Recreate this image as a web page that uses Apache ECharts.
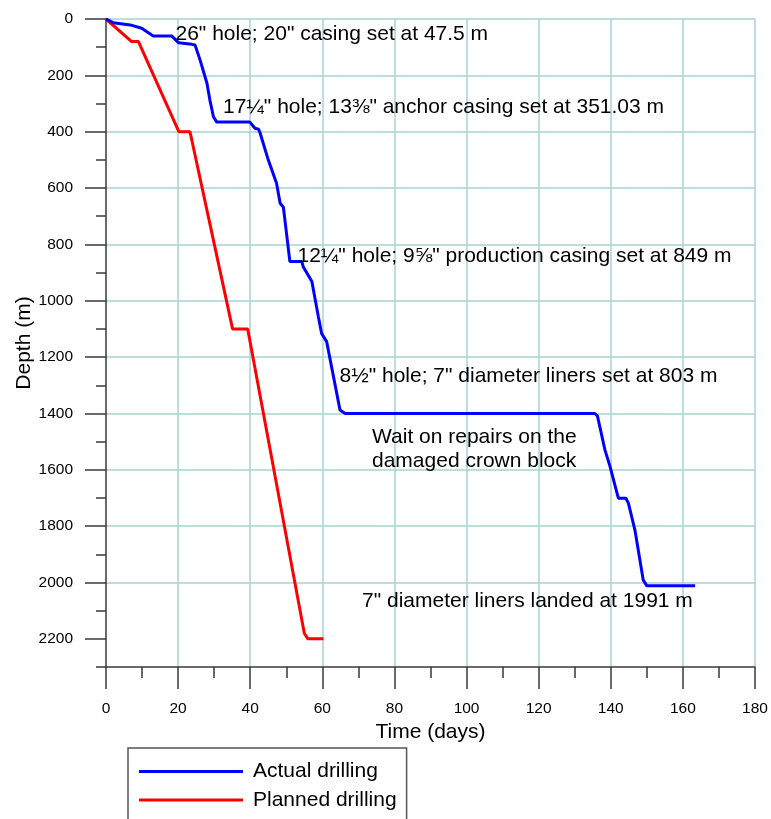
<!DOCTYPE html>
<html>
<head>
<meta charset="utf-8">
<script src="https://cdn.jsdelivr.net/npm/echarts@6/dist/echarts.min.js"></script>
<style>
  html, body { margin: 0; padding: 0; background: #ffffff; }
  #chart { width: 771px; height: 819px; }
</style>
</head>
<body>
<div id="chart"></div>
<script>
// Actual drilling progress: time (days) vs depth (m)
const actualDays  = [0, 2.0, 6.7, 9.9, 13.1, 18.2, 20.1, 23.8, 24.7, 26.1, 28.0, 28.8, 29.8, 30.7,
                     39.9, 41.3, 42.3, 42.7, 45.0, 47.3, 48.3, 49.2, 51.0, 54.3, 54.7, 57.1, 58.9,
                     59.8, 61.2, 64.9, 66.3, 135.6, 136.3, 138.4, 139.8, 142.1, 144.2, 144.9, 146.7,
                     149.0, 150.0, 163.4];
const actualDepth = [0, 13, 21, 33, 60, 60, 84, 90, 92, 146, 228, 287, 347, 366,
                     366, 388, 391, 403, 500, 583, 654, 668, 861, 861, 879, 932, 1057,
                     1116, 1145, 1388, 1400, 1400, 1409, 1530, 1589, 1701, 1701, 1719, 1814,
                     1991, 2012, 2012];

// Planned drilling programme
const plannedDays  = [0, 7.1, 9.0, 9.4, 20.2, 23.3, 35.1, 39.3, 55.0, 56.0, 60.3];
const plannedDepth = [0, 80, 80, 86, 400, 400, 1100, 1100, 2180, 2200, 2200];

// Axis ticks
const depthLabelTicks = [0, 200, 400, 600, 800, 1000, 1200, 1400, 1600, 1800, 2000, 2200];
const depthMinorTicks = [100, 300, 500, 700, 900, 1100, 1300, 1500, 1700, 1900, 2100, 2300];
const timeRange = [0, 180];
const depthRange = [0, 2300];

// Section notes
const notes = [
  { text: '26" hole; 20" casing set at 47.5 m', x: 175.5, y: 34.5 },
  { text: '17\u00BC" hole; 13\u215C" anchor casing set at 351.03 m', x: 223, y: 107.5 },
  { text: '12\u00BC" hole; 9\u215D" production casing set at 849 m', x: 297.5, y: 256.5 },
  { text: '8\u00BD" hole; 7" diameter liners set at 803 m', x: 339.5, y: 376 },
  { text: 'Wait on repairs on the', x: 372, y: 437.5 },
  { text: 'damaged crown block', x: 372, y: 461 },
  { text: '7" diameter liners landed at 1991 m', x: 362, y: 601 }
];

const FONT = '"Liberation Sans", Arial, Helvetica, sans-serif';
const axisColor = '#3a3a3a';
const gridColor = '#a9d3d3';

const zip = (xs, ys) => xs.map((x, i) => [x, ys[i]]);
const plain = v => String(v);

const chart = echarts.init(document.getElementById('chart'), null, { renderer: 'canvas' });

chart.setOption({
  animation: false,
  backgroundColor: '#ffffff',
  grid: { left: 106, top: 19, right: 16, bottom: 152, containLabel: false, outerBoundsMode: 'none' },
  legend: {
    data: ['Actual drilling', 'Planned drilling'],
    orient: 'vertical',
    left: 128,
    top: 748,
    height: 120,
    icon: 'rect',
    itemWidth: 104,
    itemHeight: 3,
    itemGap: 7.6,
    padding: [13, 10, 25, 11],
    borderColor: '#555555',
    borderWidth: 1.5,
    selectedMode: false,
    textStyle: { fontFamily: FONT, fontSize: 21, color: '#000', padding: [0, 0, 0, 5] }
  },
  xAxis: {
    type: 'value',
    min: timeRange[0],
    max: timeRange[1],
    interval: 20,
    name: 'Time (days)',
    nameLocation: 'middle',
    nameGap: 52,
    nameTextStyle: { fontFamily: FONT, fontSize: 21, color: '#000' },
    axisLine: { show: true, onZero: false, lineStyle: { color: axisColor, width: 1.5 } },
    axisTick: { show: true, inside: false, length: 22, lineStyle: { color: axisColor, width: 1.5 } },
    minorTick: { show: true, splitNumber: 2, length: 11, lineStyle: { color: axisColor, width: 1.5 } },
    axisLabel: { margin: 34, formatter: plain, fontFamily: FONT, fontSize: 15.5, color: '#000' },
    splitLine: { show: true, showMinLine: false, lineStyle: { color: gridColor, width: 1.5 } }
  },
  yAxis: [
    {
      type: 'value',
      inverse: true,
      min: depthRange[0],
      max: depthRange[1],
      interval: 200,
      name: 'Depth (m)',
      nameLocation: 'middle',
      nameGap: 71,
      nameMoveOverlap: false,
      nameTextStyle: { fontFamily: FONT, fontSize: 21, color: '#000' },
      axisLine: { show: true, onZero: false, lineStyle: { color: axisColor, width: 1.5 } },
      axisTick: { show: true, inside: false, length: 21, customValues: depthLabelTicks,
                  lineStyle: { color: axisColor, width: 1.5 } },
      axisLabel: { margin: 33, formatter: plain, customValues: depthLabelTicks,
                   fontFamily: FONT, fontSize: 15.5, color: '#000' },
      splitLine: { show: true, showMaxLine: false, lineStyle: { color: gridColor, width: 1.5 } }
    },
    {
      type: 'value',
      inverse: true,
      min: depthRange[0],
      max: depthRange[1],
      interval: 100,
      position: 'left',
      axisLine: { show: false },
      axisTick: { show: true, inside: false, length: 10, customValues: depthMinorTicks,
                  lineStyle: { color: axisColor, width: 1.5 } },
      axisLabel: { show: false },
      splitLine: { show: false }
    }
  ],
  series: [
    {
      name: 'Actual drilling',
      type: 'line',
      color: '#0000ff',
      yAxisIndex: 0,
      data: zip(actualDays, actualDepth),
      symbol: 'none',
      showSymbol: false,
      lineStyle: { width: 3, color: '#0000ff' },
      z: 3
    },
    {
      name: 'Planned drilling',
      type: 'line',
      color: '#ff0000',
      yAxisIndex: 0,
      data: zip(plannedDays, plannedDepth),
      symbol: 'none',
      showSymbol: false,
      lineStyle: { width: 3, color: '#ff0000' },
      z: 2
    }
  ],
  graphic: notes.map(n => ({
    type: 'text',
    x: n.x,
    y: n.y,
    z: 10,
    style: {
      text: n.text,
      fill: '#000',
      font: '21px ' + FONT,
      align: 'left',
      verticalAlign: 'middle'
    }
  }))
});
</script>
</body>
</html>
